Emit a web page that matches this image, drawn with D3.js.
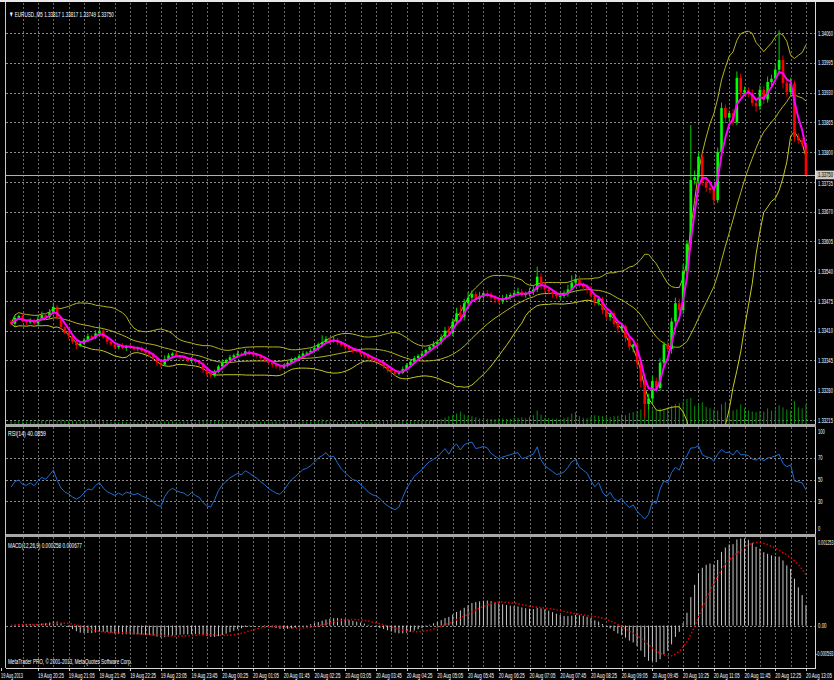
<!DOCTYPE html>
<html>
<head>
<meta charset="utf-8">
<script src="https://cdn.jsdelivr.net/npm/d3@7"></script>
<style>
html, body { margin: 0; padding: 0; background: #000; }
svg { display: block; }
text { font-family: "Liberation Sans", Arial, sans-serif; fill: #fff; }
</style>
</head>
<body>
<div id="chart"></div>
<script>
const width = 834, height = 680;

// EURUSD M5, 19 Aug 19:50 -> 20 Aug 13:05, prices in points above 1.33000
const basePrice = 1.33;
const firstOpen = 430;
const closePts = [
  425,438,442,430,428,433,426,436,444,440,450,462,440,
  418,405,398,386,378,382,390,398,395,404,410,396,386,
  380,374,378,372,377,374,370,372,366,362,358,350,340,
  336,348,356,360,355,352,350,344,348,342,338,325,315,
  312,320,332,340,346,352,356,360,358,365,362,358,355,
  350,346,340,336,332,330,334,340,346,350,355,360,362,
  366,372,380,385,392,388,390,384,378,374,370,366,365,
  360,356,350,346,344,340,332,326,320,316,318,326,335,
  342,350,355,360,368,375,380,385,396,410,404,430,448,
  440,470,482,490,480,485,492,490,482,478,474,480,484,
  488,492,495,488,490,496,500,528,510,500,495,490,485,
  486,490,500,515,522,510,505,500,486,472,480,455,440,
  448,425,415,420,395,375,380,340,300,250,262,300,285,
  340,380,370,430,470,455,540,600,739,745,790,735,722,
  717,695,800,896,875,885,865,962,930,935,928,907,900,
  936,915,953,960,980,1001,951,931,950,833,826,817,750
];
const upWick = [
  4,6,3,5,2,4,3,6,8,5,7,10,4,
  3,2,5,4,3,2,4,6,3,7,12,4,3,
  2,4,3,5,2,3,4,2,3,5,2,4,3,
  6,8,5,3,4,2,6,3,5,2,3,4,2,
  3,5,4,6,3,5,4,7,3,6,4,2,3,
  4,2,3,5,2,4,3,6,5,3,4,6,3,
  5,7,4,15,6,3,8,4,3,2,5,3,4,
  3,2,4,3,5,2,3,4,2,3,5,6,4,
  3,5,4,6,3,4,7,5,6,8,10,7,12,
  18,9,12,8,6,10,5,7,4,6,5,8,6,
  5,7,9,6,5,8,10,22,8,6,5,4,7,
  5,8,10,16,12,7,5,6,8,5,6,4,5,
  3,6,4,5,3,4,2,6,5,8,10,12,8,
  10,6,9,8,12,10,15,8,120,15,12,8,6,
  8,6,10,12,8,6,9,14,10,8,6,9,7,
  10,8,12,9,14,65,10,8,12,6,8,5,0
];
const downWick = [
  3,5,4,2,6,3,5,4,3,6,4,5,6,
  4,3,6,5,8,4,3,5,4,3,5,4,6,
  3,5,4,2,6,3,4,5,3,4,6,5,7,
  5,3,4,6,2,5,4,3,5,4,6,8,5,
  6,4,3,5,2,4,3,5,4,3,6,4,5,
  3,5,4,6,5,7,3,4,2,5,3,4,5,
  3,4,6,5,3,7,4,5,3,6,4,5,3,
  4,6,3,5,4,6,5,7,8,5,4,3,5,
  4,3,5,4,6,3,5,4,6,5,4,6,5,
  6,8,5,7,9,6,5,8,6,7,5,6,4,
  6,5,7,4,6,5,8,6,10,7,6,8,5,
  7,5,6,4,8,6,7,9,6,8,7,9,6,
  8,6,9,7,10,8,12,10,14,30,12,10,8,
  6,9,7,10,8,6,9,7,8,10,12,8,9,
  7,10,6,8,12,9,7,6,10,8,9,7,12,
  8,10,7,9,6,8,12,10,9,10,8,6,1
];
const tickVolume = [
  60,45,70,50,40,55,48,62,75,58,80,95,70,
  85,72,60,66,50,58,64,55,70,88,60,52,45,
  40,48,36,44,38,42,50,35,46,52,40,58,62,
  55,48,44,60,38,42,50,45,52,40,64,72,56,
  60,54,66,50,44,58,48,52,46,62,50,42,48,
  40,46,52,44,58,50,42,48,55,46,40,52,44,
  48,56,60,90,62,50,58,44,40,46,38,42,48,
  36,42,38,46,40,50,54,60,66,52,48,56,50,
  58,52,60,66,62,70,75,80,96,120,150,170,200,
  240,180,160,150,130,110,120,100,96,90,110,105,98,
  100,120,115,130,110,140,170,260,180,120,110,100,105,
  96,110,130,200,230,150,120,110,140,170,160,150,140,
  130,150,160,180,170,210,230,250,280,330,300,280,260,
  300,280,320,350,380,400,430,480,500,350,380,420,330,
  300,280,260,380,420,300,260,280,380,300,260,240,230,
  250,240,300,260,280,360,320,280,260,440,320,300,380
];

const priceTicks = [1.33215, 1.33280, 1.33345, 1.33410, 1.33475, 1.33540, 1.33605,
                    1.33670, 1.33735, 1.33800, 1.33865, 1.33930, 1.33995, 1.34060];
const bidPrice = 1.33750;
const timeLabels = ["19 Aug 2013", "19 Aug 20:25", "19 Aug 21:05", "19 Aug 21:45", "19 Aug 22:25",
  "19 Aug 23:05", "19 Aug 23:45", "20 Aug 00:25", "20 Aug 01:05", "20 Aug 01:45", "20 Aug 02:25",
  "20 Aug 03:05", "20 Aug 03:45", "20 Aug 04:25", "20 Aug 05:05", "20 Aug 05:45", "20 Aug 06:25",
  "20 Aug 07:05", "20 Aug 07:45", "20 Aug 08:25", "20 Aug 09:05", "20 Aug 09:45", "20 Aug 10:25",
  "20 Aug 11:05", "20 Aug 11:45", "20 Aug 12:25", "20 Aug 13:05"];
const rsiLabels = [100, 70, 50, 30, 0];
const rsiLevels = [70, 50, 30];
const macdMax = 0.001253, macdMin = -0.000593;
const macdLabels = [macdMax, 0, macdMin];
const titleText = "\u25BC EURUSD.,M5  1.33817 1.33817 1.33749 1.33750";
const rsiTitle = "RSI(14) 40.0859";
const macdTitle = "MACD(12,26,9) 0.000258 0.000677";
const copyright = "MetaTrader PRO, \u00A9 2001-2013, MetaQuotes Software Corp.";

// bars
const N = closePts.length;
const bars = closePts.map((c, i) => {
  const o = i === 0 ? firstOpen : closePts[i - 1];
  return {
    i: i,
    o: basePrice + o / 1e5,
    c: basePrice + c / 1e5,
    h: basePrice + (Math.max(o, c) + upWick[i]) / 1e5,
    l: basePrice + (Math.min(o, c) - downWick[i]) / 1e5,
    v: tickVolume[i]
  };
});
const closes = bars.map(d => d.c);

// indicators
function ema(arr, p) {
  const k = 2 / (p + 1), out = [];
  arr.forEach((v, i) => out.push(i === 0 ? v : out[i - 1] + k * (v - out[i - 1])));
  return out;
}
function sma(arr, p) {
  return arr.map((v, i) => d3.mean(arr.slice(Math.max(0, i - p + 1), i + 1)));
}
function lwma(arr, p) {
  return arr.map((v, i) => {
    let s = 0, w = 0;
    for (let j = 0; j < p && i - j >= 0; j++) { s += arr[i - j] * (p - j); w += p - j; }
    return s / w;
  });
}
function bands(arr, p, dev) {
  return arr.map((v, i) => {
    const w = arr.slice(Math.max(0, i - p + 1), i + 1);
    const m = d3.mean(w);
    const sd = Math.sqrt(d3.mean(w, x => (x - m) * (x - m)));
    return {mid: m, up: m + dev * sd, lo: m - dev * sd};
  });
}
function rsi(arr, p) {
  const ch = arr.map((v, i) => i === 0 ? 0 : v - arr[i - 1]);
  // seed with the average of the first p changes
  let ag = d3.mean(ch.slice(1, p + 1), c => Math.max(c, 0));
  let al = d3.mean(ch.slice(1, p + 1), c => Math.max(-c, 0));
  return ch.map((c, i) => {
    if (i > 0) {
      ag = (ag * (p - 1) + Math.max(c, 0)) / p;
      al = (al * (p - 1) + Math.max(-c, 0)) / p;
    }
    return al === 0 ? 100 : 100 - 100 / (1 + ag / al);
  });
}

const maLine = lwma(closes, 5);
const bb = bands(closes, 20, 2);
const rsiLine = rsi(closes, 14);
const e12 = ema(closes, 12), e26 = ema(closes, 26);
const macdMain = closes.map((c, i) => e12[i] - e26[i]);
const macdSignal = sma(macdMain, 9);

// layout
const left = 6, right = 815;
const mainTop = 3, mainBottom = 424;
const rsiTop = 427, rsiBottom = 534;
const macdTop = 537, macdBottom = 668;

const svg = d3.select("#chart").append("svg")
  .attr("width", width)
  .attr("height", height);

svg.append("rect").attr("width", width).attr("height", height).attr("fill", "#000");

const x = d3.scaleLinear().domain([0, N - 1]).range([11.1, 806]);
const y = d3.scaleLinear().domain([1.33215, 1.34060]).range([420, 33]);
const yRsi = d3.scaleLinear().domain([0, 100]).range([534, 425]);
const yMacd = d3.scaleLinear().domain([macdMin, macdMax]).range([667, 538]);
const yVol = d3.scaleLinear().domain([0, 500]).range([0, 26]);

// squeeze text horizontally like the downsized screenshot
function fitText(parent, str, tx, ty, w, fs) {
  const g = parent.append("g").attr("transform", `translate(${tx},${ty})`);
  const t = g.append("text").attr("font-size", fs || 8).text(str);
  const nat = t.node().getComputedTextLength();
  t.attr("transform", `scale(${w / nat},1)`);
  return t;
}

const defs = svg.append("defs");
[["clip-main", mainTop, mainBottom], ["clip-rsi", rsiTop, rsiBottom], ["clip-macd", macdTop, macdBottom]]
  .forEach(([id, t, b]) => {
    defs.append("clipPath").attr("id", id)
      .append("rect").attr("x", left).attr("y", t).attr("width", right - left).attr("height", b - t);
  });

// grid
const gridBars = d3.range(3, N, 4);
const grid = svg.append("g");
[[mainTop, mainBottom], [rsiTop, rsiBottom], [macdTop, macdBottom]].forEach(([t, b]) => {
  grid.selectAll(null)
    .data(gridBars)
    .enter().append("line")
      .attr("x1", d => Math.round(x(d)) + 0.5).attr("x2", d => Math.round(x(d)) + 0.5)
      .attr("y1", t).attr("y2", b)
      .attr("stroke", "#6a6a6a")
      .attr("stroke-dasharray", "2,2");
});
grid.selectAll("line.hp")
  .data(priceTicks)
  .enter().append("line")
    .attr("class", "hp")
    .attr("x1", left).attr("x2", right)
    .attr("y1", d => Math.round(y(d)) + 0.5).attr("y2", d => Math.round(y(d)) + 0.5)
    .attr("stroke", "#8e8e8e")
    .attr("stroke-dasharray", "2,2");
grid.selectAll("line.hr")
  .data(rsiLevels)
  .enter().append("line")
    .attr("class", "hr")
    .attr("x1", left).attr("x2", right)
    .attr("y1", d => Math.round(yRsi(d)) + 0.5).attr("y2", d => Math.round(yRsi(d)) + 0.5)
    .attr("stroke", "#8e8e8e")
    .attr("stroke-dasharray", "2,2");
grid.append("line")
  .attr("x1", left).attr("x2", right)
  .attr("y1", Math.round(yMacd(0)) + 0.5).attr("y2", Math.round(yMacd(0)) + 0.5)
  .attr("stroke", "#8e8e8e")
  .attr("stroke-dasharray", "2,2");

// main panel
const main = svg.append("g").attr("clip-path", "url(#clip-main)");

main.selectAll("rect.vol")
  .data(bars)
  .enter().append("rect")
    .attr("class", "vol")
    .attr("x", d => x(d.i) - 0.5)
    .attr("width", 1)
    .attr("y", d => mainBottom - yVol(d.v))
    .attr("height", d => yVol(d.v))
    .attr("fill", "#0a8a0a");

const line = d3.line().x((d, i) => x(i)).y(d => y(d));
main.append("path").datum(bb.map(d => d.up)).attr("d", line)
  .attr("fill", "none").attr("stroke", "#b4b41e").attr("stroke-width", 1);
main.append("path").datum(bb.map(d => d.mid)).attr("d", line)
  .attr("fill", "none").attr("stroke", "#b4b41e").attr("stroke-width", 1);
main.append("path").datum(bb.map(d => d.lo)).attr("d", line)
  .attr("fill", "none").attr("stroke", "#c8c820").attr("stroke-width", 1);

main.selectAll("line.wick")
  .data(bars)
  .enter().append("line")
    .attr("class", "wick")
    .attr("x1", d => x(d.i)).attr("x2", d => x(d.i))
    .attr("y1", d => y(d.h)).attr("y2", d => y(d.l))
    .attr("stroke", d => d.c >= d.o ? "#00d000" : "#e00000")
    .attr("stroke-width", 1);

main.selectAll("rect.body")
  .data(bars)
  .enter().append("rect")
    .attr("class", "body")
    .attr("x", d => x(d.i) - 1.3)
    .attr("width", 2.6)
    .attr("y", d => y(Math.max(d.o, d.c)))
    .attr("height", d => Math.max(1, Math.abs(y(d.o) - y(d.c))))
    .attr("fill", d => d.c >= d.o ? "#00ff00" : "#ff0000");

main.append("path").datum(maLine).attr("d", line)
  .attr("fill", "none").attr("stroke", "#ff00ff").attr("stroke-width", 2);

// bid line
svg.append("line")
  .attr("x1", left).attr("x2", right)
  .attr("y1", Math.round(y(bidPrice)) + 0.5).attr("y2", Math.round(y(bidPrice)) + 0.5)
  .attr("stroke", "#b0b0b0");

// RSI panel
const rsiG = svg.append("g").attr("clip-path", "url(#clip-rsi)");
rsiG.append("path")
  .datum(rsiLine)
  .attr("d", d3.line().x((d, i) => x(i)).y(d => yRsi(d)))
  .attr("fill", "none").attr("stroke", "#1e6ed2").attr("stroke-width", 1);

// MACD panel
const macdG = svg.append("g").attr("clip-path", "url(#clip-macd)");
macdG.selectAll("line.hist")
  .data(macdMain)
  .enter().append("line")
    .attr("class", "hist")
    .attr("x1", (d, i) => x(i)).attr("x2", (d, i) => x(i))
    .attr("y1", yMacd(0)).attr("y2", d => yMacd(d))
    .attr("stroke", "#c8c8c8").attr("stroke-width", 1);
macdG.append("path")
  .datum(macdSignal)
  .attr("d", d3.line().x((d, i) => x(i)).y(d => yMacd(d)))
  .attr("fill", "none").attr("stroke", "#e00000").attr("stroke-width", 1.5)
  .attr("stroke-dasharray", "1.5,2");

// frames and separators
svg.append("rect").attr("x", 0).attr("y", 0).attr("width", width).attr("height", 2).attr("fill", "#e8e8e8");
svg.append("line").attr("x1", left - 0.5).attr("x2", left - 0.5).attr("y1", 2).attr("y2", macdBottom)
  .attr("stroke", "#c8c8c8");
svg.append("line").attr("x1", right + 0.5).attr("x2", right + 0.5).attr("y1", 2).attr("y2", macdBottom)
  .attr("stroke", "#d8d8d8");
svg.append("line").attr("x1", left).attr("x2", right + 1).attr("y1", macdBottom + 0.5).attr("y2", macdBottom + 0.5)
  .attr("stroke", "#d8d8d8");
[mainBottom, rsiBottom].forEach(t => {
  svg.append("rect").attr("x", left).attr("y", t).attr("width", right - left + 1).attr("height", 3)
    .attr("fill", "#a8a8a8");
});

// right axis labels (the one just under the bid box is nudged down a touch)
const axisG = svg.append("g");
priceTicks.forEach(p => {
  const nudge = Math.abs(y(p) - y(bidPrice)) < 9 ? 1.5 : 0;
  fitText(axisG, p.toFixed(5), 818, y(p) + 2.6 + nudge, 15, 7.5);
});

axisG.append("rect")
  .attr("x", right + 1).attr("y", y(bidPrice) - 4).attr("width", 18).attr("height", 8)
  .attr("fill", "#c0c0c0").attr("stroke", "#fff").attr("stroke-width", 0.5);
fitText(axisG, bidPrice.toFixed(5), 818, y(bidPrice) + 2.4, 15, 7).style("fill", "#000");

rsiLabels.forEach(r => {
  const ty = Math.min(rsiBottom - 3, Math.max(rsiTop + 7, yRsi(r) + 2.6));
  fitText(axisG, String(r), 818, ty, String(r).length * 2.3);
});

macdLabels.forEach(m => {
  const ty = Math.min(macdBottom - 12, Math.max(macdTop + 8, yMacd(m) + 2.6));
  const txt = m === 0 ? "0.00" : m.toFixed(6);
  fitText(axisG, txt, m < 0 ? 816 : 818, ty, m === 0 ? 8.5 : (m < 0 ? 17.5 : 15.5));
});

// time axis
const timeG = svg.append("g");
timeLabels.forEach((t, j) => {
  const bi = j === 0 ? 0 : 7 + 8 * (j - 1);
  const px = j === 0 ? 1 : x(bi);
  timeG.append("line")
    .attr("x1", Math.round(px) + 0.5).attr("x2", Math.round(px) + 0.5)
    .attr("y1", macdBottom).attr("y2", macdBottom + 3)
    .attr("stroke", "#d8d8d8");
  fitText(timeG, t, px, 678, j === 0 ? 22 : 26);
});

// titles
fitText(svg, titleText, 9, 17, 105);
fitText(svg, rsiTitle, 8, 436, 38);
fitText(svg, macdTitle, 8, 548, 74);
fitText(svg, copyright, 8, 664, 124);
</script>
</body>
</html>
